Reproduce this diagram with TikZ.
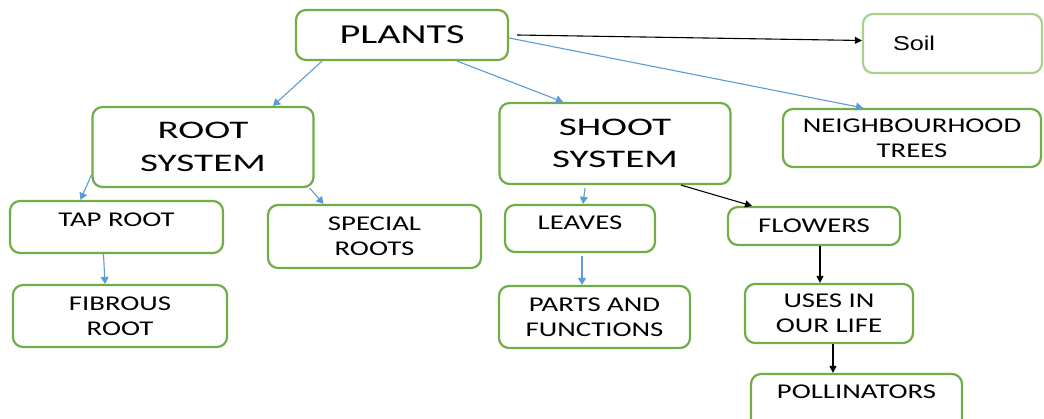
\documentclass[tikz,border=0pt]{standalone}
\usepackage{fontspec}
\setmainfont{Carlito}[FakeStretch=1.37]
\newfontfamily\plantsfont{Carlito}[FakeStretch=1.47]
\newfontfamily\systemfont{Carlito}[FakeStretch=1.55]
\newfontfamily\soilfont{Liberation Sans}[FakeStretch=1.26]
\usetikzlibrary{arrows.meta}
\definecolor{boxgreen}{RGB}{112,173,71}
\definecolor{softgreen}{RGB}{169,209,142}
\definecolor{linkblue}{RGB}{91,155,213}

\begin{document}
\begin{tikzpicture}[x=1pt, y=-1pt,
        box/.style={rectangle, rounded corners=10pt, draw=boxgreen, line width=2.2pt, align=center, inner sep=0pt, font=\fontsize{21}{25}\selectfont},
        bigbox/.style={box, font=\systemfont\fontsize{25.3}{32.5}\selectfont},
        bluelink/.style={draw=linkblue, line width=1.1pt, -{Triangle[length=7pt,width=8pt]}},
        blacklink/.style={draw=black, line width=1.1pt, -{Triangle[length=7pt,width=7pt]}}
      ]
        \useasboundingbox (0,0) rectangle (1044,419);

        % top row
        \node[box, minimum width=212pt, minimum height=50pt, font=\plantsfont\fontsize{27.4}{28}\selectfont]  (plants)  at (402,35)  {PLANTS};
        \node[box, draw=softgreen, minimum width=179pt, minimum height=59pt, text width=119pt, inner xsep=30pt, align=left, font=\soilfont\fontsize{20}{22}\selectfont]  (soil)  at (952.5,43.5)  {Soil};

        % second row
        \node[bigbox, minimum width=221pt, minimum height=80pt]  (root)   at (203,147)  {ROOT\\SYSTEM};
        \node[bigbox, minimum width=231pt, minimum height=81pt]  (shoot)  at (615,143.5)  {SHOOT\\SYSTEM};
        \node[box, minimum width=258pt, minimum height=58pt]  (neigh)  at (912,138)  {NEIGHBOURHOOD\\TREES};

        % third row
        \node[box, minimum width=213pt, minimum height=52pt, text depth=14pt]  (tap)      at (116.5,227)  {TAP ROOT};
        \node[box, minimum width=213pt, minimum height=63pt]                   (special)  at (374.5,236.5)  {SPECIAL\\ROOTS};
        \node[box, minimum width=150pt, minimum height=47pt, text depth=11pt]  (leaves)   at (580,228.5)  {LEAVES};
        \node[box, minimum width=172pt, minimum height=38pt]                   (flowers)  at (814,226)  {FLOWERS};

        % fourth row
        \node[box, minimum width=214pt, minimum height=62pt]  (fibrous)  at (120,316)  {FIBROUS\\ROOT};
        \node[box, minimum width=191pt, minimum height=62pt]  (parts)    at (594.5,317)  {PARTS AND\\FUNCTIONS};
        \node[box, minimum width=168pt, minimum height=59pt]  (uses)     at (829,313.5)  {USES IN\\OUR LIFE};
        \node[box, minimum width=211pt, minimum height=56pt, text depth=20pt]  (poll)  at (856.5,402)  {POLLINATORS};

        % links
        \draw[blacklink]  ([xshift=8pt]plants.east) -- ([yshift=3pt]soil.west);
        \draw[bluelink]   ([xshift=-80pt]plants.south) -- ([xshift=70pt]root.north);
        \draw[bluelink]   ([xshift=55pt]plants.south) -- ([xshift=-52pt]shoot.north);
        \draw[bluelink]   ([yshift=-3pt]plants.east) -- ([xshift=-49pt]neigh.north);
        \draw[bluelink]   ([yshift=-28pt]root.west) -- ([xshift=-36pt]tap.north);
        \draw[bluelink]   ([xshift=-5pt]root.south east) -- ([xshift=-51pt]special.north);
        \draw[bluelink]   ([xshift=-13pt]tap.south) -- ([xshift=-15pt]fibrous.north);
        \draw[bluelink]   ([xshift=-30pt,yshift=-3pt]shoot.south) -- ([xshift=3pt]leaves.north);
        \draw[blacklink]  ([xshift=66pt]shoot.south) -- ([xshift=-62pt]flowers.north);
        \draw[bluelink]   ([xshift=2pt,yshift=-3pt]leaves.south) -- ([xshift=-12.5pt]parts.north);
        \draw[blacklink]  ([xshift=6pt]flowers.south) -- ([xshift=-9pt]uses.north);
        \draw[blacklink]  ([xshift=4pt]uses.south) -- ([xshift=-23.5pt]poll.north);
      \end{tikzpicture}
\end{document}
